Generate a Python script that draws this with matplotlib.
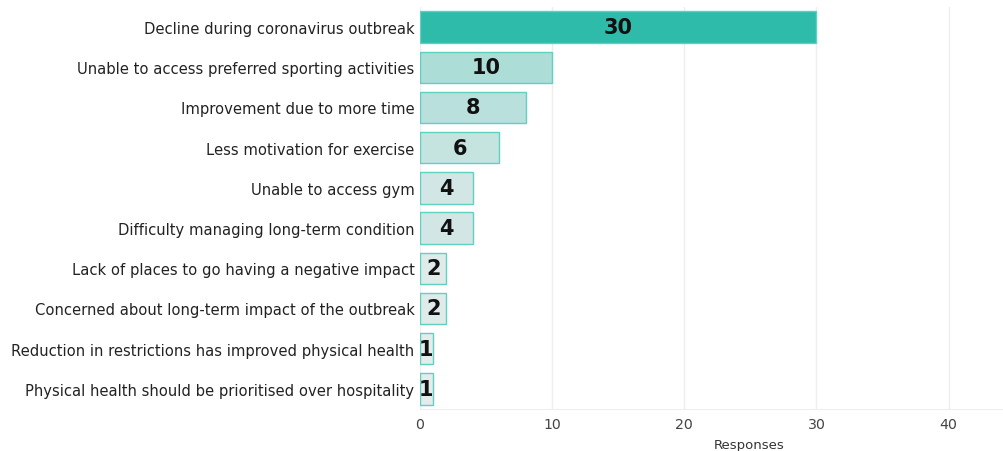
import matplotlib
matplotlib.use("Agg")
import matplotlib.pyplot as plt
from matplotlib.colors import LinearSegmentedColormap, Normalize

categories = [
    "Decline during coronavirus outbreak",
    "Unable to access preferred sporting activities",
    "Improvement due to more time",
    "Less motivation for exercise",
    "Unable to access gym",
    "Difficulty managing long-term condition",
    "Lack of places to go having a negative impact",
    "Concerned about long-term impact of the outbreak",
    "Reduction in restrictions has improved physical health",
    "Physical health should be prioritised over hospitality",
]
values = [30, 10, 8, 6, 4, 4, 2, 2, 1, 1]
xticks = [0, 10, 20, 30, 40]

plt.rcParams['font.family'] = ['DejaVu Sans']
fig = plt.figure(figsize=(10.04, 4.52), dpi=100)
W, H = 1004, 452
left, right, top, bottom = 420, 1004, 8, 410
ax = fig.add_axes([left / W, 1 - bottom / H, (right - left) / W, (bottom - top) / H])

cmap = LinearSegmentedColormap.from_list("teal", ["#ebeeee", "#2ebbaa"])
norm = Normalize(0, 30)
ypos = list(range(len(categories)))
colors = [cmap(norm(v)) for v in values]
ax.barh(ypos, values, height=0.78, color=colors, edgecolor="#5fd0c2", linewidth=1.0, zorder=3)

for y, v in zip(ypos, values):
    ax.text(v / 2 if v > 1 else 0.45, y, str(v), ha="center", va="center",
            fontsize=15, fontweight="heavy", color="#111111", zorder=4)

ax.set_ylim(len(categories) - 0.5, -0.5)
ax.set_xlim(0, 44.2)
ax.set_yticks(ypos)
ax.set_yticklabels(categories, fontsize=10.6, color="#222222")
ax.set_xticks(xticks)
ax.set_xticklabels([str(t) for t in xticks], fontsize=10.2, color="#444444")
ax.tick_params(axis="y", length=0, pad=4)
ax.tick_params(axis="x", length=0, pad=6)
for s in ["top", "right", "left"]:
    ax.spines[s].set_visible(False)
ax.spines["bottom"].set_color("#eeeeee")
ax.grid(axis="x", color="#eeeeee", linewidth=1, zorder=0)
ax.set_axisbelow(True)

fig.text(749 / W, 1 - 446 / H, "Responses", ha="center", va="center",
         fontsize=9.5, color="#333333")

fig.savefig("out.png", dpi=100, facecolor="white")
